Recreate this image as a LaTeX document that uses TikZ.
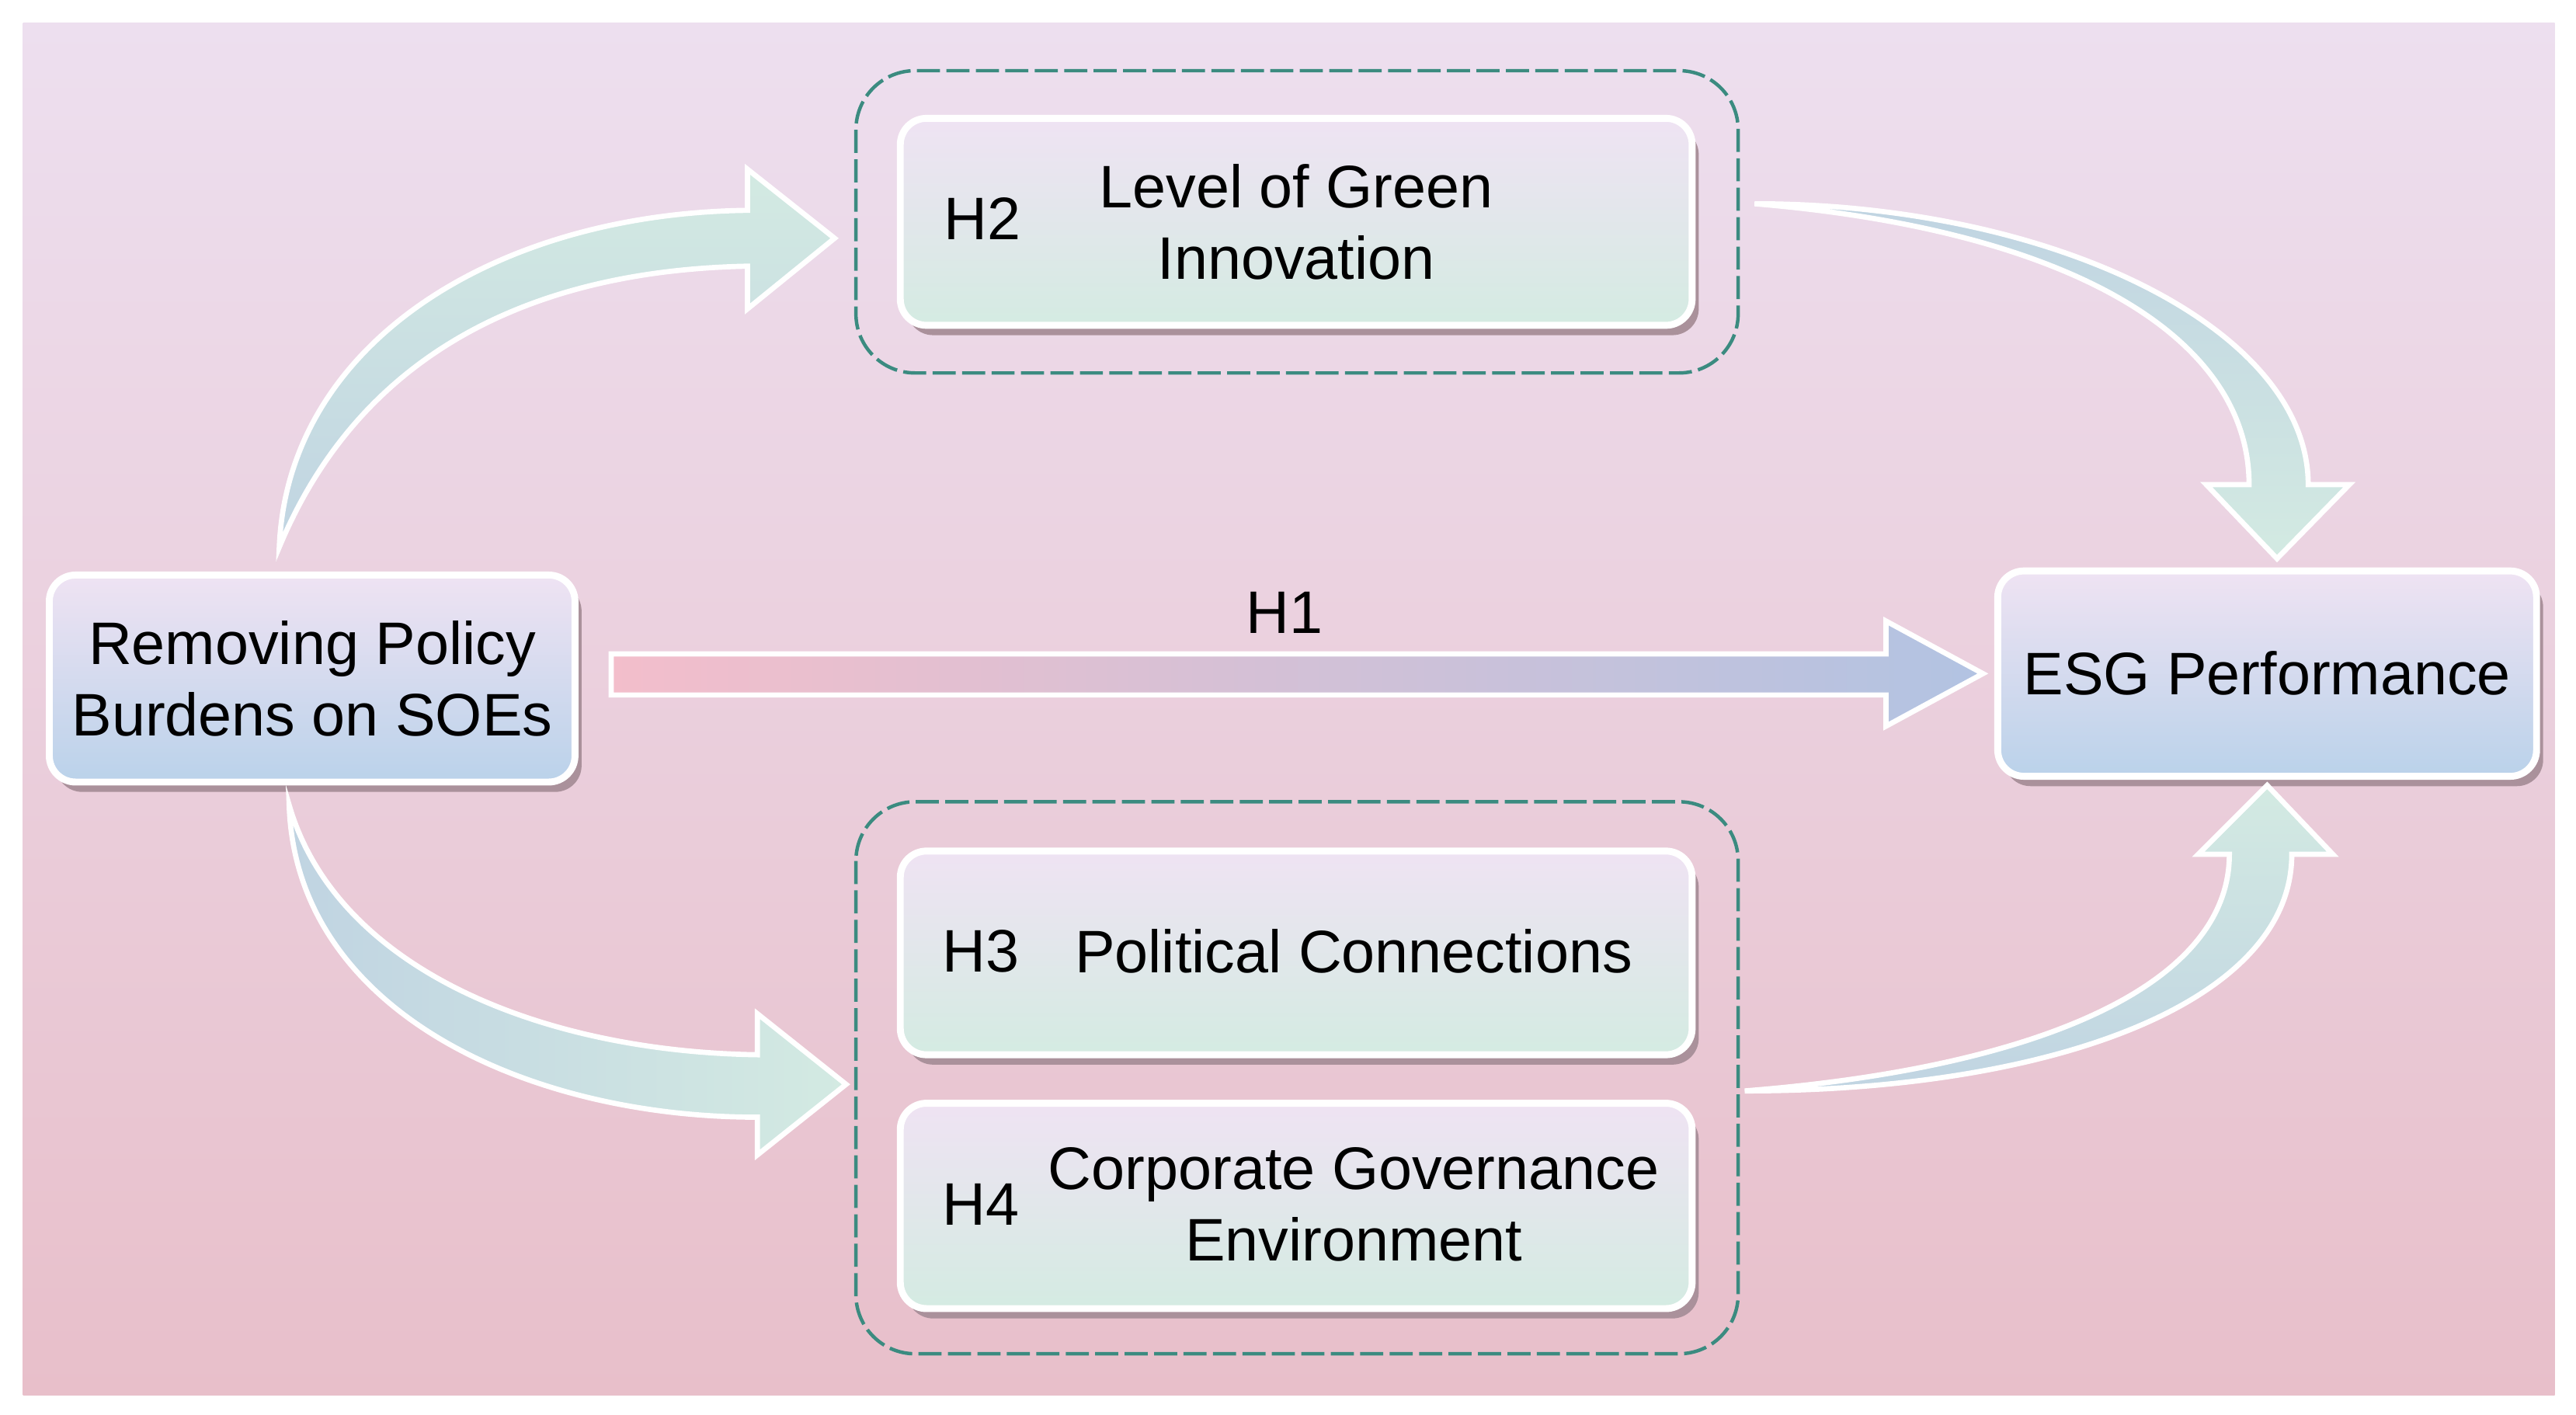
\documentclass[tikz,border=0pt]{standalone}
\usepackage{fontspec}
\setmainfont{Liberation Sans}
\usetikzlibrary{shadows,calc}

\definecolor{bgtop}{RGB}{237,223,239}
\definecolor{bgbot}{RGB}{232,191,202}
\definecolor{boxtop}{RGB}{239,227,243}
\definecolor{boxblue}{RGB}{186,210,234}
\definecolor{boxmint}{RGB}{212,235,226}
\definecolor{shadecol}{RGB}{170,145,155}
\definecolor{dashteal}{RGB}{59,139,128}
\definecolor{arrmint}{RGB}{211,234,226}
\definecolor{arrblue}{RGB}{192,212,226}
\definecolor{hpink}{RGB}{243,190,203}
\definecolor{hblue}{RGB}{178,195,226}

\tikzset{
	endbox/.style={rounded corners=1.6mm, draw=white, line width=1.2pt,
		top color=boxtop, bottom color=boxblue, align=center, inner sep=0pt,
		drop shadow={shadow xshift=0.4mm, shadow yshift=-0.6mm, fill=shadecol, opacity=1}},
	medbox/.style={endbox, bottom color=boxmint, minimum width=48.2mm},
	dashgroup/.style={draw=dashteal, line width=0.6pt, rounded corners=3.6mm,
		dash pattern=on 4pt off 1.1pt},
	fatarrow/.style={draw=white, line width=0.9pt},
	hlab/.style={inner sep=0pt}
}

\begin{document}
\begin{tikzpicture}[x=0.1mm, y=-0.1mm,
	every node/.style={font=\fontsize{10.4pt}{12.4pt}\selectfont}]
	\useasboundingbox (0,0) rectangle (1568,861);
	
	% 1. background
	\shade[top color=bgtop, bottom color=bgbot] (14,14) rectangle (1555,849);
	
	% 2. dashed groups
	\draw[dashgroup] (521,43) rectangle (1058,227);
	\draw[dashgroup] (521,488) rectangle (1058,824);
	
	% 3. boxes
	\node[endbox, minimum width=32mm, minimum height=12.6mm] (src) at (190,413)
		{Removing Policy\\Burdens on SOEs};
	\node[endbox, minimum width=32.8mm, minimum height=12.5mm] (esg) at (1380,410)
		{ESG Performance};
	\node[medbox, minimum height=12.6mm] (h2) at (789,135) {Level of Green\\Innovation};
	\node[medbox, minimum height=12.4mm] (h3) at (789,580) {};
	\node[medbox, minimum height=12.5mm] (h4) at (789,734) {};
	
	% 4. texts in the mediator boxes
	\node[hlab] (h2lab) at (598,133) {H2};
	\node[hlab] (h3lab) at (597,579) {H3};
	\node[hlab] (h4lab) at (597,733) {H4};
	\node[align=center] (h3txt) at (824,579) {Political Connections};
	\node[align=center] (h4txt) at (824,733) {Corporate Governance\\Environment};
	
	% 5. direct path H1
	\coordinate (h1s) at (372,410);
	\coordinate (h1e) at (1207,410);
	\draw[fatarrow, left color=hpink, right color=hblue]
		($(h1s)+(0,-12)$) -- (1148,398) -- (1148,378) -- (h1e) -- (1148,442)
		-- (1148,423) -- ($(h1s)+(0,13)$) -- cycle;
	\node (h1lab) at (782,373) {H1};
	
	% 6. curved arrows (source -> mediators -> ESG)
	\coordinate (a1s) at (170,333);
	\coordinate (a1e) at (508,145);
	\draw[fatarrow, top color=arrmint, bottom color=arrblue]
		(a1s) .. controls (175,210) and (300,130) .. (455,128)
		-- (455,103) -- (a1e) -- (455,188) -- (455,162)
		.. controls (310,165) and (215,225) .. (a1s) -- cycle;
	
	\coordinate (a2s) at (1068,124);
	\coordinate (a2e) at (1386,340);
	\draw[fatarrow, top color=arrblue, bottom color=arrmint]
		(a2s) .. controls (1250,124) and (1405,200) .. (1405,295)
		-- (1430,295) -- (a2e) -- (1343,295) -- (1369,295)
		.. controls (1369,205) and (1260,140) .. (a2s) -- cycle;
	
	\coordinate (a3s) at (176,490);
	\coordinate (a3e) at (515,660);
	\draw[fatarrow, left color=arrblue, right color=arrmint]
		(a3s) .. controls (180,615) and (320,680) .. (461,680)
		-- (461,703) -- (a3e) -- (461,617) -- (461,642)
		.. controls (330,640) and (205,590) .. (a3s) -- cycle;
	
	\coordinate (a4s) at (1062,664);
	\coordinate (a4e) at (1380,478);
	\draw[fatarrow, bottom color=arrblue, top color=arrmint]
		(a4s) .. controls (1250,664) and (1395,610) .. (1395,520)
		-- (1420,520) -- (a4e) -- (1338,520) -- (1357,520)
		.. controls (1357,600) and (1240,650) .. (a4s) -- cycle;
\end{tikzpicture}
\end{document}
